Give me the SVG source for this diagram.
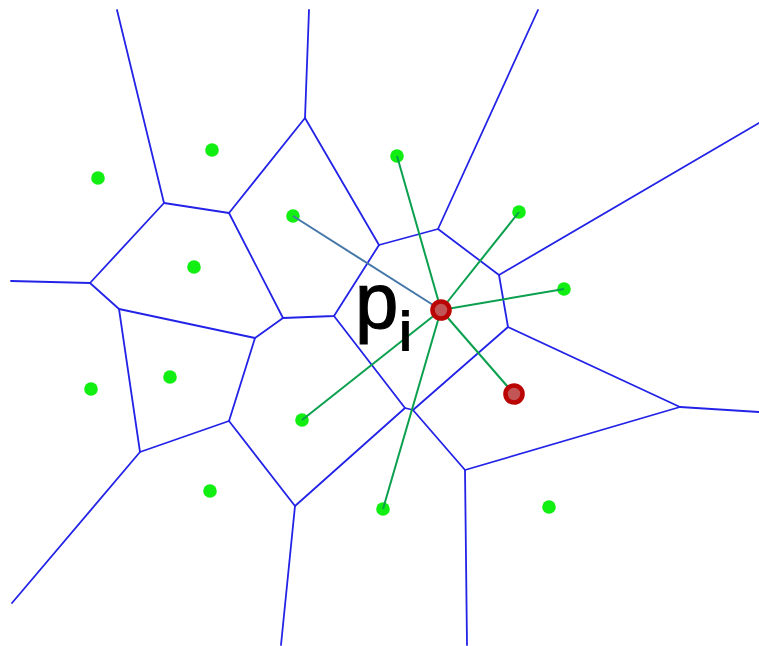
<svg xmlns="http://www.w3.org/2000/svg" width="759" height="646" viewBox="0 0 759 646">
<style>
.edge{stroke:#2323e8;stroke-width:1.8;fill:none;stroke-linecap:round;stroke-linejoin:round}
.link{stroke:#0aa04e;stroke-width:2;fill:none}
.link2{stroke:#4577a8;stroke-width:2;fill:none}
.site{fill:#11ee11}
.sel{fill:#c25656;stroke:#bb0505;stroke-width:4.6}
.lbl{font-family:"Liberation Sans",Arial,sans-serif;fill:#000;stroke:#000}
</style>
<rect width="759" height="646" fill="#fff"/>
<g id="voronoi-edges">
<path class="edge" d="M117,10 L164,203 L229,213 L305,118 L309,10"/>
<path class="edge" d="M305,118 L379,245 L334,316 L283,318 L229,213"/>
<path class="edge" d="M164,203 L90,283 L11,281"/>
<path class="edge" d="M90,283 L119,309 L255,338 L283,318"/>
<path class="edge" d="M119,309 L140,452 L229,421 L255,338"/>
<path class="edge" d="M140,452 L12,603"/>
<path class="edge" d="M229,421 L295,506 L281,645"/>
<path class="edge" d="M295,506 L405,408 L334,316"/>
<path class="edge" d="M405,408 L413,410 L508,327 L499,275 L438,229 L379,245"/>
<path class="edge" d="M438,229 L538,10"/>
<path class="edge" d="M499,275 L759,123"/>
<path class="edge" d="M508,327 L680,407 L759,412"/>
<path class="edge" d="M680,407 L465,470 L413,410"/>
<path class="edge" d="M465,470 L467,645"/>
</g>
<g id="sites">
<circle class="site" cx="98" cy="178" r="6.8"/>
<circle class="site" cx="212" cy="150" r="6.8"/>
<circle class="site" cx="293" cy="216" r="6.8"/>
<circle class="site" cx="194" cy="267" r="6.8"/>
<circle class="site" cx="91" cy="389" r="6.8"/>
<circle class="site" cx="170" cy="377" r="6.8"/>
<circle class="site" cx="302" cy="420" r="6.8"/>
<circle class="site" cx="210" cy="491" r="6.8"/>
<circle class="site" cx="383" cy="509" r="6.8"/>
<circle class="site" cx="549" cy="507" r="6.8"/>
<circle class="site" cx="397" cy="156" r="6.8"/>
<circle class="site" cx="519" cy="212" r="6.8"/>
<circle class="site" cx="564" cy="289" r="6.8"/>
</g>
<g id="connectors">
<line class="link2" x1="441" y1="310" x2="293" y2="216"/>
<line class="link" x1="441" y1="310" x2="397" y2="156"/>
<line class="link" x1="441" y1="310" x2="519" y2="212"/>
<line class="link" x1="441" y1="310" x2="564" y2="289"/>
<line class="link" x1="441" y1="310" x2="514" y2="394"/>
<line class="link" x1="441" y1="310" x2="383" y2="509"/>
<line class="link" x1="441" y1="310" x2="302" y2="420"/>
</g>
<g id="pi">
<circle class="sel" cx="441" cy="310" r="8.5"/>
</g>
<g id="neighbor">
<circle class="sel" cx="514" cy="394" r="8.5"/>
</g>
<g id="label">
<text class="lbl" x="355" y="328" font-size="78" stroke-width="1.2">p</text>
<text class="lbl" x="399.5" y="350" font-size="54" stroke-width="2">i</text>
</g>
</svg>
